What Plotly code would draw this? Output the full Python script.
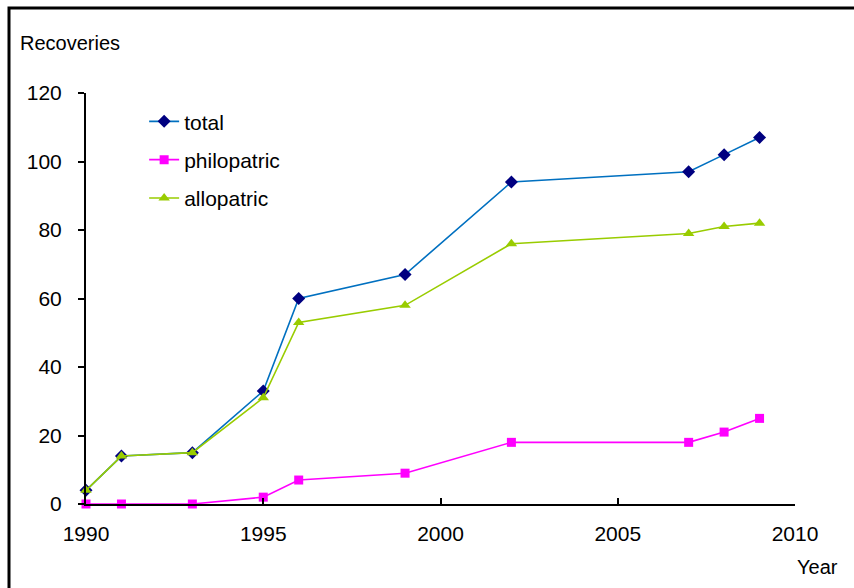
import plotly.graph_objects as go

years = [1990, 1991, 1993, 1995, 1996, 1999, 2002, 2007, 2008, 2009]
total = [4, 14, 15, 33, 60, 67, 94, 97, 102, 107]
philopatric = [0, 0, 0, 2, 7, 9, 18, 18, 21, 25]
allopatric = [4, 14, 15, 31, 53, 58, 76, 79, 81, 82]

font = "Liberation Sans, Arial, sans-serif"

fig = go.Figure()

fig.add_trace(go.Scatter(
    x=years, y=total, mode="lines+markers", name="total",
    legendgroup="a",
    line=dict(color="#0070C0", width=1.6),
    marker=dict(color="#000080", symbol="diamond", size=10),
    cliponaxis=False,
))
fig.add_trace(go.Scatter(
    x=years, y=philopatric, mode="lines+markers", name="philopatric",
    legendgroup="b",
    line=dict(color="#FF00FF", width=1.6),
    marker=dict(color="#FF00FF", symbol="square", size=9),
    cliponaxis=False,
))
fig.add_trace(go.Scatter(
    x=years, y=allopatric, mode="lines+markers", name="allopatric",
    legendgroup="c",
    line=dict(color="#99CC00", width=1.6),
    marker=dict(color="#99CC00", symbol="triangle-up", size=10),
    cliponaxis=False,
))

fig.update_layout(
    width=854, height=588,
    margin=dict(l=86, r=59, t=93, b=84),
    paper_bgcolor="white", plot_bgcolor="white",
    font=dict(family=font, size=21, color="black"),
    showlegend=True,
    legend=dict(x=0.082, y=0.98, xanchor="left", yanchor="top",
                font=dict(size=21), tracegroupgap=8,
                bgcolor="rgba(0,0,0,0)"),
    xaxis=dict(range=[1990, 2010], tickvals=[1990, 1995, 2000, 2005, 2010],
               showgrid=False, zeroline=False, showline=True,
               linecolor="black", linewidth=2,
               ticks="inside", ticklen=6, tickwidth=1.5, tickcolor="black",
               ticklabelstandoff=10),
    yaxis=dict(range=[0, 120], tickvals=[0, 20, 40, 60, 80, 100, 120],
               showgrid=False, zeroline=False, showline=True,
               linecolor="black", linewidth=2,
               ticks="outside", ticklen=6, tickwidth=1.5, tickcolor="black",
               ticklabelstandoff=12),
    annotations=[
        dict(text="Recoveries", xref="paper", yref="paper",
             x=(18 - 86) / 709, y=(504 - 43) / 411,
             xanchor="left", yanchor="middle", showarrow=False,
             font=dict(size=20)),
        dict(text="Year", xref="paper", yref="paper",
             x=(840 - 86) / 709, y=(504 - 567) / 411,
             xanchor="right", yanchor="middle", showarrow=False,
             font=dict(size=20)),
    ],
    shapes=[
        dict(type="rect", xref="paper", yref="paper",
             x0=(9 - 86) / 709, y0=-1, x1=2, y1=(504 - 8) / 411,
             line=dict(color="black", width=3), layer="below"),
    ],
)

fig.write_html("out.html", config={"displayModeBar": False},
               post_script="document.body.style.margin='0';")
